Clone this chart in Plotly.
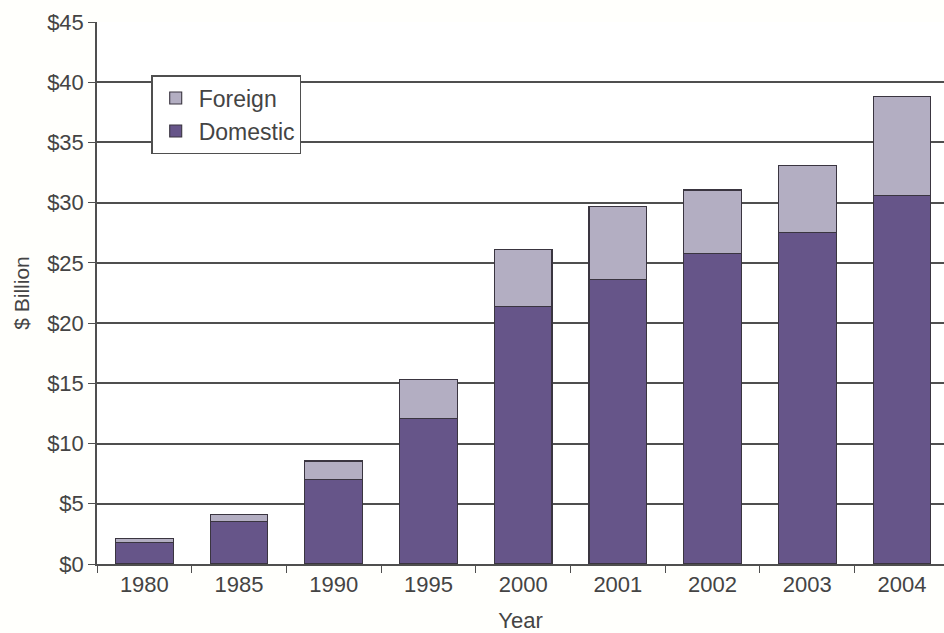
import plotly.graph_objects as go

years = ["1980", "1985", "1990", "1995", "2000", "2001", "2002", "2003", "2004"]
domestic = [1.8, 3.55, 7.0, 12.1, 21.4, 23.6, 25.75, 27.5, 30.6]
foreign = [0.3, 0.55, 1.55, 3.2, 4.7, 6.1, 5.3, 5.6, 8.2]
y_ticks = [0, 5, 10, 15, 20, 25, 30, 35, 40, 45]
y_tick_labels = ["$" + str(v) for v in y_ticks]

DOMESTIC_COLOR = "#665589"
FOREIGN_COLOR = "#b3aec2"
EDGE = "#3a3540"
GRID = "#4f4f4f"
TEXT = "#444444"
FONT = "Liberation Sans, Arial, sans-serif"

fig = go.Figure()
fig.add_trace(go.Bar(
    x=years, y=domestic, name="Domestic",
    marker=dict(color=DOMESTIC_COLOR, line=dict(color=EDGE, width=1.1)),
))
fig.add_trace(go.Bar(
    x=years, y=foreign, name="Foreign",
    marker=dict(color=FOREIGN_COLOR, line=dict(color=EDGE, width=1.1)),
))

fig.update_layout(
    width=944, height=633,
    margin=dict(l=97, r=0, t=22, b=69),
    barmode="stack",
    bargap=0.39,
    paper_bgcolor="#fffffc",
    plot_bgcolor="#ffffff",
    font=dict(family=FONT, color=TEXT, size=22),
    legend=dict(
        x=0.064, y=0.902, xanchor="left", yanchor="top",
        traceorder="reversed",
        bgcolor="#ffffff", bordercolor=GRID, borderwidth=1.5,
        font=dict(size=23, color=TEXT),
        itemwidth=36,
    ),
    xaxis=dict(
        type="category",
        range=[-0.5, 8.444],
        showgrid=False,
        showline=True, linecolor=GRID, linewidth=1.5,
        ticks="outside", tickson="boundaries", ticklen=7,
        tickcolor=GRID, tickwidth=1.2,
        tickfont=dict(size=22, color=TEXT),
        title=dict(text="Year", font=dict(size=22, color=TEXT), standoff=18),
    ),
    yaxis=dict(
        range=[0, 45],
        tickvals=y_ticks, ticktext=y_tick_labels,
        showgrid=True, gridcolor=GRID, gridwidth=1.5,
        zeroline=False,
        showline=True, linecolor=GRID, linewidth=1.5,
        ticks="outside", ticklen=7, tickcolor=GRID, tickwidth=1.2,
        tickfont=dict(size=22, color=TEXT),
        title=dict(text="$ Billion", font=dict(size=21, color=TEXT), standoff=12),
    ),
)

fig.write_html("out.html")
